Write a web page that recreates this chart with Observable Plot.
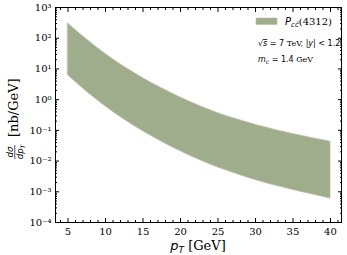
<!DOCTYPE html>
<html><head><meta charset="utf-8">
<script src="https://cdn.jsdelivr.net/npm/d3@7"></script>
<script src="https://cdn.jsdelivr.net/npm/@observablehq/plot@0.6"></script>
<style>body{margin:0;background:#fff} svg{display:block}</style>
</head><body><div id="chart"></div>
<script>
// transverse momentum points (GeV)
const pt = [5, 7.5, 10, 12.5, 15, 17.5, 20, 22.5, 25, 27.5, 30, 32.5, 35, 37.5, 40];
// upper / lower edges of the band, dsigma/dpT [nb/GeV]
const upper = [302, 91.2, 30.9, 11.7, 5.01, 2.34, 1.17, 0.631, 0.363, 0.229, 0.151, 0.105, 0.0759, 0.0562, 0.0427];
const lower = [6.17, 1.82, 0.603, 0.224, 0.0933, 0.0427, 0.0209, 0.01096, 0.00617, 0.00380, 0.00240, 0.00162, 0.00115, 0.000832, 0.000603];

const xMajor = [5, 10, 15, 20, 25, 30, 35, 40];
const xMinor = [4, 6, 7, 8, 9, 11, 12, 13, 14, 16, 17, 18, 19, 21, 22, 23, 24, 26, 27, 28, 29, 31, 32, 33, 34, 36, 37, 38, 39, 41];
const yMajor = [1e-4, 1e-3, 1e-2, 1e-1, 1e0, 1e1, 1e2, 1e3];
const yMajorLabels = ["10⁻⁴", "10⁻³", "10⁻²", "10⁻¹", "10⁰", "10¹", "10²", "10³"];
const minorMultipliers = [2, 3, 4, 5, 6, 7, 8, 9];
const yMinor = yMajor.slice(0, -1).flatMap(d => minorMultipliers.map(m => m * d));

const data = pt.map((p, i) => ({pt: p, hi: upper[i], lo: lower[i]}));
const bandColor = "#a0ad8c";
const blank = () => "";

const chart = Plot.plot({
  width: 347, height: 255,
  marginLeft: 55, marginRight: 6, marginTop: 7, marginBottom: 33,
  style: {fontFamily: "DejaVu Serif", fontSize: "10px", background: "#fff", color: "#000"},
  x: {type: "linear", domain: [3.33, 41.47]},
  y: {type: "log", domain: [1e-4, 1e3]},
  marks: [
    Plot.areaY(data, {x: "pt", y1: "lo", y2: "hi", fill: bandColor, stroke: "#b6c1a5", strokeWidth: 0.8, curve: "monotone-x"}),
    Plot.frame({stroke: "#000", strokeWidth: 1}),
    Plot.axisX(xMajor, {anchor: "bottom", tickSize: -4, tickPadding: 9, label: null, fontSize: 10}),
    Plot.axisX(xMinor, {anchor: "bottom", tickSize: -2, tickFormat: blank, label: null}),
    Plot.axisX(xMajor, {anchor: "top", tickSize: -4, tickFormat: blank, label: null}),
    Plot.axisX(xMinor, {anchor: "top", tickSize: -2, tickFormat: blank, label: null}),
    Plot.axisY(yMajor, {anchor: "left", tickSize: -4, tickPadding: 8, label: null, fontSize: 10,
      tickFormat: (d) => yMajorLabels[yMajor.findIndex(v => Math.abs(Math.log10(v) - Math.log10(d)) < 1e-6)]}),
    Plot.axisY(yMinor, {anchor: "left", tickSize: -2, tickFormat: blank, label: null}),
    Plot.axisY(yMajor, {anchor: "right", tickSize: -4, tickFormat: blank, label: null}),
    Plot.axisY(yMinor, {anchor: "right", tickSize: -2, tickFormat: blank, label: null})
  ]
});
document.getElementById("chart").appendChild(chart);

const svg = d3.select(chart);
const mathFont = "DejaVu Sans";

// x-axis label
const xl = svg.append("text").attr("x", 198).attr("y", 250).attr("text-anchor", "middle")
  .attr("font-family", "DejaVu Serif").attr("font-size", 13).attr("fill", "#000");
xl.append("tspan").attr("font-family", mathFont).attr("font-style", "italic").text("p");
xl.append("tspan").attr("font-family", mathFont).attr("font-style", "italic").attr("font-size", 9).attr("dy", 3).text("T");
xl.append("tspan").attr("dy", -3).text(" [GeV]");

// y-axis label (rotated)
const yl = svg.append("g").attr("transform", "translate(18,137) rotate(-90)");
yl.append("text").attr("x", 0).attr("y", 0).attr("text-anchor", "start").attr("font-family", "DejaVu Serif").attr("font-size", 13).attr("fill", "#000").text("[nb/GeV]");
yl.append("text").attr("x", -15).attr("y", -5.5).attr("text-anchor", "middle").attr("font-family", mathFont)
  .attr("font-style", "italic").attr("font-size", 8.5).attr("fill", "#000").text("dσ");
yl.append("line").attr("x1", -22).attr("x2", -8).attr("y1", -3.2).attr("y2", -3.2).attr("stroke", "#000").attr("stroke-width", 0.7);
const den = yl.append("text").attr("x", -15).attr("y", 4.5).attr("text-anchor", "middle").attr("font-family", mathFont)
  .attr("font-style", "italic").attr("font-size", 8.5).attr("fill", "#000");
den.append("tspan").text("dp");
den.append("tspan").attr("font-size", 6).attr("dy", 2).text("T");

// legend
svg.append("rect").attr("x", 256).attr("y", 18).attr("width", 21).attr("height", 6.5).attr("fill", bandColor).attr("stroke", "#b6c1a5").attr("stroke-width", 0.6);
const lt = svg.append("text").attr("x", 285).attr("y", 24.5).attr("text-anchor", "start").attr("font-family", "DejaVu Serif").attr("font-size", 10).attr("fill", "#000");
lt.append("tspan").attr("font-family", mathFont).attr("font-style", "italic").text("P");
lt.append("tspan").attr("font-family", mathFont).attr("font-style", "italic").attr("font-size", 7).attr("dy", 2.5).text("cc\u0304");
lt.append("tspan").attr("dy", -2.5).text("(4312)");

// annotations
const a1 = svg.append("text").attr("x", 258).attr("y", 46).attr("text-anchor", "start").attr("font-family", "DejaVu Serif").attr("font-size", 8).attr("fill", "#000");
a1.append("tspan").attr("font-family", mathFont).text("√");
a1.append("tspan").attr("font-family", mathFont).attr("font-style", "italic").attr("text-decoration", "overline").text("s");
a1.append("tspan").attr("font-family", mathFont).text(" = 7 ");
a1.append("tspan").text("TeV, ");
a1.append("tspan").attr("font-family", mathFont).text("|");
a1.append("tspan").attr("font-family", mathFont).attr("font-style", "italic").text("y");
a1.append("tspan").attr("font-family", mathFont).text("| < 1.2");

const a2 = svg.append("text").attr("x", 258).attr("y", 62).attr("text-anchor", "start").attr("font-family", "DejaVu Serif").attr("font-size", 8).attr("fill", "#000");
a2.append("tspan").attr("font-family", mathFont).attr("font-style", "italic").text("m");
a2.append("tspan").attr("font-family", mathFont).attr("font-style", "italic").attr("font-size", 6).attr("dy", 2).text("c");
a2.append("tspan").attr("font-family", mathFont).attr("dy", -2).text(" = 1.4 ");
a2.append("tspan").text("GeV");
</script>
</body></html>
